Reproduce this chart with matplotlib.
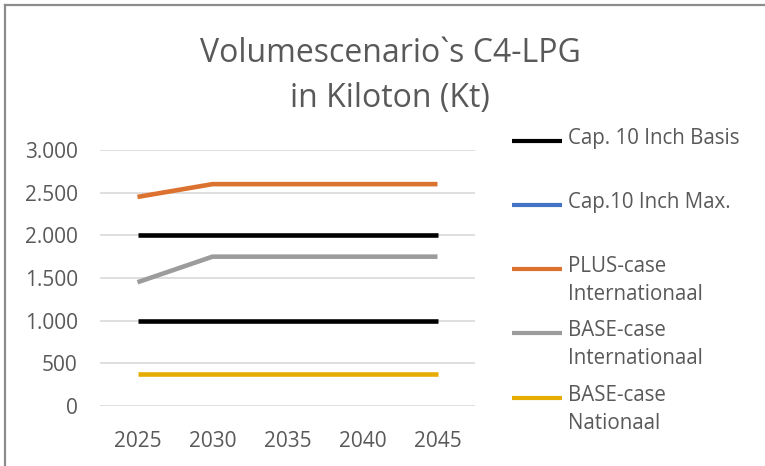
"""Volumescenario's C4-LPG line chart (Excel-style)."""

import matplotlib

matplotlib.use("Agg")
import matplotlib.pyplot as plt
from matplotlib.lines import Line2D
from matplotlib.ticker import FuncFormatter

YEARS = ["2025", "2030", "2035", "2040", "2045"]

CAP_BASIS = [1000, 1000, 1000, 1000, 1000]
CAP_MAX = [2000, 2000, 2000, 2000, 2000]
PLUS_INT = [2450, 2600, 2600, 2600, 2600]
BASE_INT = [1450, 1750, 1750, 1750, 1750]
BASE_NAT = [370, 370, 370, 370, 370]

SERIES_LABELS = [
    "Cap. 10 Inch Basis",
    "Cap.10 Inch Max.",
    "PLUS-case\nInternationaal",
    "BASE-case\nInternationaal",
    "BASE-case\nNationaal",
]
LEGEND_COLORS = ["#000000", "#4472c4", "#dc7230", "#9c9c9c", "#e6ad00"]
# the Max line is drawn black in the source, only its legend key is blue
LINE_COLORS = ["#000000", "#000000", "#dc7230", "#9c9c9c", "#e6ad00"]
TEXT = "#595959"

plt.rcParams["font.family"] = ["Open Sans", "DejaVu Sans"]

fig = plt.figure(figsize=(7.65, 4.66), dpi=100)
W, H = 765, 466
ax = fig.add_axes([100 / W, 1 - 406 / H, 375 / W, 256 / H])

x = list(range(len(YEARS)))
series = [CAP_BASIS, CAP_MAX, PLUS_INT, BASE_INT, BASE_NAT]
for vals, color in zip(series, LINE_COLORS):
    ax.plot(x, vals, color=color, lw=3.3, solid_capstyle="butt", zorder=3)

ax.set_xlim(-0.5, len(YEARS) - 0.5)
ax.set_ylim(0, 3000)
ax.set_yticks(range(0, 3001, 500))
ax.yaxis.set_major_formatter(FuncFormatter(lambda v, _: f"{int(v):,}".replace(",", ".")))
ax.set_xticks(x)
ax.set_xticklabels(YEARS)
ax.grid(True, axis="y", color="#d9d9d9", lw=1.2, zorder=0)
for s in ax.spines.values():
    s.set_visible(False)
ax.tick_params(axis="y", length=0, pad=16, labelsize=15, labelcolor=TEXT)
ax.tick_params(axis="x", length=0, pad=18, labelsize=15, labelcolor=TEXT)

fig.text(390 / W, 1 - 76 / H, "Volumescenario`s C4-LPG\nin Kiloton (Kt)",
         ha="center", va="center", fontsize=23, color=TEXT, linespacing=1.45)

# legend, drawn Excel style: key aligned with first line of the label
key_y = [141, 205, 269, 333, 398]
for label, color, yy in zip(SERIES_LABELS, LEGEND_COLORS, key_y):
    fig.add_artist(Line2D([512 / W, 562 / W], [1 - yy / H] * 2, color=color,
                          lw=3.0, solid_capstyle="butt", transform=fig.transFigure))
    fig.text(568 / W, 1 - (yy - 13) / H, label, ha="left", va="top",
             fontsize=14.8, color=TEXT, linespacing=1.42)

# chart border (only top and left visible in the crop)
fig.add_artist(Line2D([5 / W, 1], [1 - 5 / H] * 2, color="#8c8c8c", lw=1.6,
                      transform=fig.transFigure))
fig.add_artist(Line2D([5 / W] * 2, [0, 1 - 5 / H], color="#8c8c8c", lw=1.6,
                      transform=fig.transFigure))

fig.savefig("out.png", dpi=100)
